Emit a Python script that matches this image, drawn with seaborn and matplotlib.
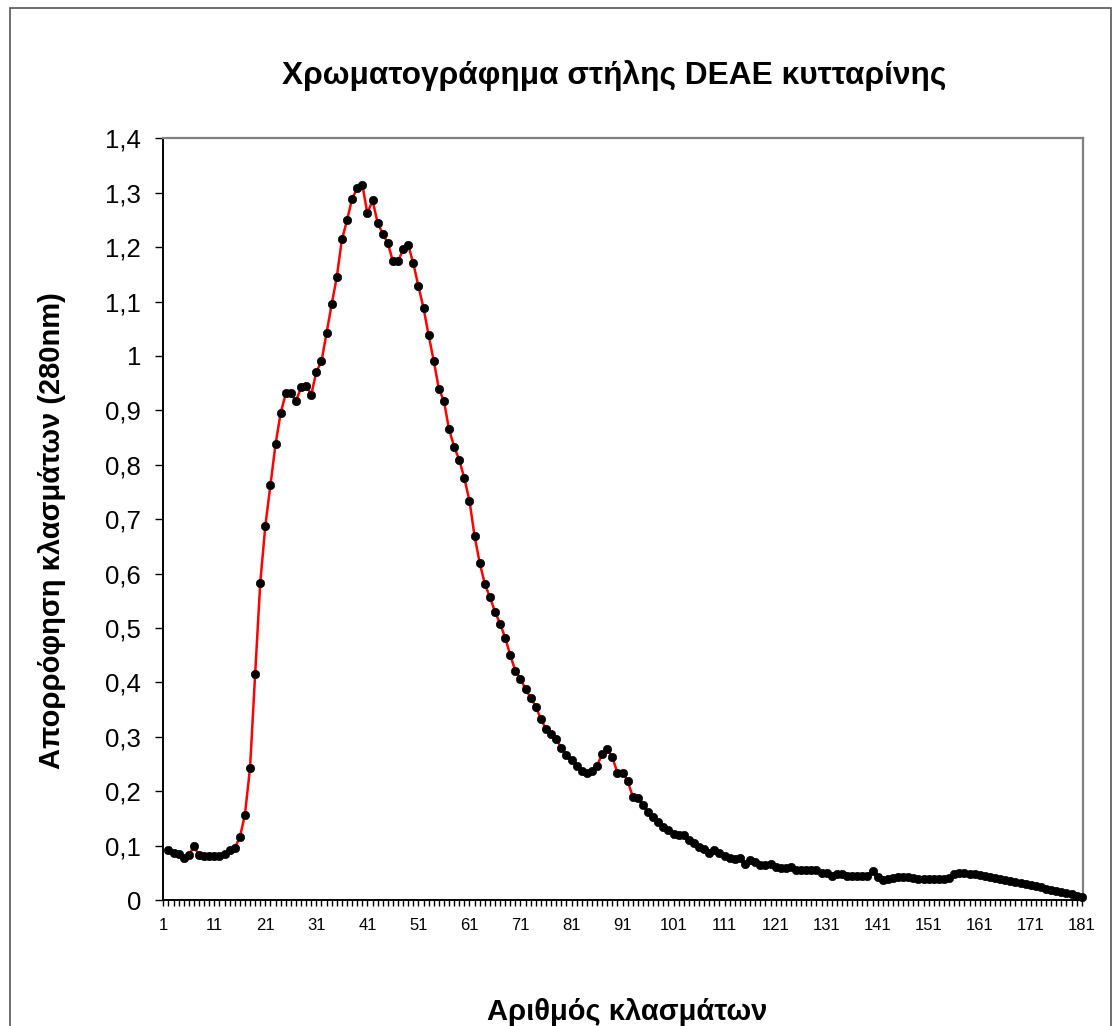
import matplotlib
matplotlib.use("Agg")
import matplotlib.pyplot as plt
import matplotlib.patches as mpatches
from matplotlib.ticker import FuncFormatter, MultipleLocator, FixedLocator
import numpy as np
import pandas as pd
import seaborn as sns

# ---------------- data ----------------
fractions = list(range(2, 182))
absorbance = [
    0.091, 0.086, 0.084, 0.078, 0.082, 0.099, 0.082, 0.081, 0.080, 0.080,   # 2-11
    0.081, 0.084, 0.092, 0.096, 0.115, 0.157, 0.243, 0.415, 0.583, 0.688,   # 12-21
    0.763, 0.838, 0.895, 0.931, 0.931, 0.917, 0.942, 0.945, 0.929, 0.971,   # 22-31
    0.990, 1.043, 1.095, 1.145, 1.214, 1.249, 1.289, 1.308, 1.315, 1.262,   # 32-41
    1.286, 1.245, 1.225, 1.207, 1.174, 1.174, 1.196, 1.204, 1.170, 1.128,   # 42-51
    1.088, 1.038, 0.991, 0.940, 0.917, 0.865, 0.833, 0.809, 0.775, 0.734,   # 52-61
    0.669, 0.620, 0.581, 0.557, 0.530, 0.508, 0.482, 0.450, 0.421, 0.407,   # 62-71
    0.387, 0.372, 0.355, 0.333, 0.314, 0.305, 0.296, 0.280, 0.267, 0.257,   # 72-81
    0.246, 0.237, 0.234, 0.237, 0.247, 0.268, 0.277, 0.262, 0.234, 0.234,   # 82-91
    0.219, 0.190, 0.188, 0.174, 0.162, 0.152, 0.143, 0.135, 0.128, 0.121,   # 92-101
    0.119, 0.119, 0.110, 0.104, 0.098, 0.094, 0.087, 0.092, 0.087, 0.081,   # 102-111
    0.077, 0.075, 0.078, 0.067, 0.074, 0.069, 0.065, 0.064, 0.067, 0.060,   # 112-121
    0.058, 0.058, 0.060, 0.056, 0.055, 0.055, 0.056, 0.056, 0.049, 0.049,   # 122-131
    0.045, 0.047, 0.048, 0.045, 0.045, 0.045, 0.044, 0.045, 0.054, 0.042,   # 132-141
    0.036, 0.039, 0.041, 0.042, 0.042, 0.042, 0.041, 0.039, 0.038, 0.038,   # 142-151
    0.038, 0.038, 0.039, 0.040, 0.047, 0.050, 0.049, 0.048, 0.048, 0.046,   # 152-161
    0.044, 0.043, 0.041, 0.039, 0.037, 0.035, 0.033, 0.031, 0.029, 0.027,   # 162-171
    0.025, 0.023, 0.021, 0.019, 0.017, 0.015, 0.013, 0.011, 0.008, 0.005,   # 172-181
]
x_tick_labels = [str(v) for v in range(1, 182, 10)]
y_ticks = [0.0, 0.1, 0.2, 0.3, 0.4, 0.5, 0.6, 0.7, 0.8, 0.9, 1.0, 1.1, 1.2, 1.3, 1.4]

title = "Χρωματογράφημα στήλης DEAE κυτταρίνης"
xlabel = "Αριθμός κλασμάτων"
ylabel = "Απορρόφηση κλασμάτων (280nm)"

df = pd.DataFrame({"fraction": fractions, "abs": absorbance})

# ---------------- style ----------------
sns.set_theme(style="white")
plt.rcParams["font.family"] = ["Liberation Sans", "DejaVu Sans"]
plt.rcParams["text.color"] = "black"
plt.rcParams["xtick.color"] = "black"
plt.rcParams["ytick.color"] = "black"
plt.rcParams["axes.labelcolor"] = "black"

W, H = 1113, 1026
fig = plt.figure(figsize=(W / 100, H / 100), dpi=100)
fig.patch.set_facecolor("white")

left, right, top, bottom = 163.3, 1083.3, 138.3, 900.0
ax = fig.add_axes([left / W, 1 - bottom / H, (right - left) / W, (bottom - top) / H])

sns.lineplot(data=df, x="fraction", y="abs", ax=ax, color="#ff0000", linewidth=1.8,
             marker="o", markersize=6.0, markerfacecolor="black",
             markeredgecolor="black", markeredgewidth=0.5, zorder=3, clip_on=False)

ax.set_xlim(1, 181.3)
ax.set_ylim(0, 1.4)

ax.xaxis.set_major_locator(FixedLocator([int(s) for s in x_tick_labels]))
ax.set_xticklabels(x_tick_labels)
ax.xaxis.set_minor_locator(MultipleLocator(1))
ax.set_yticks(y_ticks)
ax.yaxis.set_major_formatter(FuncFormatter(lambda v, p: ("%g" % round(v, 1)).replace(".", ",")))

ax.tick_params(axis="x", which="both", direction="out", length=4, width=1,
               color="black", labelsize=12, pad=9, bottom=True)
ax.tick_params(axis="y", which="major", direction="out", length=6, width=1,
               color="black", labelsize=18.5, pad=10, left=True)

for s in ["left", "bottom"]:
    ax.spines[s].set_color("black")
    ax.spines[s].set_linewidth(1.4)
for s in ["top", "right"]:
    ax.spines[s].set_color("#808080")
    ax.spines[s].set_linewidth(1.6)

ax.set_xlabel("")
ax.set_ylabel("")
ax.grid(False)

fig.text(614 / W, 1 - 76 / H, title, ha="center", va="center",
         fontsize=22.8, fontweight="bold")
fig.text(627 / W, 1 - 1020 / H, xlabel, ha="center", va="baseline",
         fontsize=21, fontweight="bold")
fig.text(52 / W, 1 - 531 / H, ylabel, ha="center", va="center", rotation=90,
         fontsize=21, fontweight="bold")

# chart-area border (its bottom edge lies below the picture)
fig.patches.append(mpatches.Rectangle((9.5 / W, -20 / H), (1110.5 - 9.5) / W,
                                      (H + 20 - 7.5) / H, transform=fig.transFigure,
                                      fill=False, edgecolor="#555555", linewidth=1.2))

fig.savefig("out.png", dpi=100, facecolor="white")
